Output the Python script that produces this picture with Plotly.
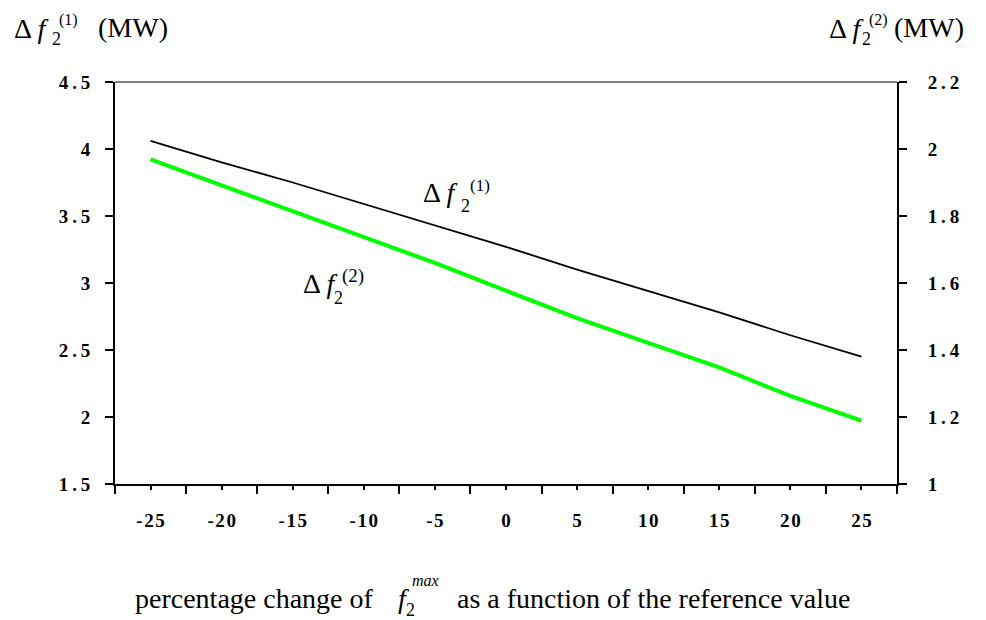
import plotly.graph_objects as go

# ---- data ----
pct_change = [-25, -20, -15, -10, -5, 0, 5, 10, 15, 20, 25]
delta_f1 = [4.06, 3.90, 3.75, 3.59, 3.43, 3.27, 3.10, 2.94, 2.78, 2.61, 2.45]
delta_f2 = [1.969, 1.891, 1.813, 1.736, 1.660, 1.577, 1.495, 1.421, 1.348, 1.263, 1.189]

x_tick_labels = ["-25", "-20", "-15", "-10", "-5", "0", "5", "10", "15", "20", "25"]
y1_tick_vals = [1.5, 2, 2.5, 3, 3.5, 4, 4.5]
y1_tick_labels = ["1.5", "2", "2.5", "3", "3.5", "4", "4.5"]
y2_tick_vals = [1, 1.2, 1.4, 1.6, 1.8, 2, 2.2]
y2_tick_labels = ["1", "1.2", "1.4", "1.6", "1.8", "2", "2.2"]
x_boundaries = [-27.5, -22.5, -17.5, -12.5, -7.5, -2.5, 2.5, 7.5, 12.5, 17.5, 22.5, 27.5]

def spaced(s, sp):
    return sp.join(list(s))

OFF = 8  # page body margin
W, H = 986 - OFF, 620 - OFF
# plot-area edges in page pixels
L, R, T, B = 115, 897, 82, 484
FONT = "Liberation Serif, Times New Roman, serif"

fig = go.Figure()
fig.add_trace(go.Scatter(x=pct_change, y=delta_f1, mode="lines",
                         line=dict(color="black", width=1.8), yaxis="y",
                         showlegend=False, hoverinfo="skip"))
fig.add_trace(go.Scatter(x=pct_change, y=delta_f2, mode="lines",
                         line=dict(color="#00ff00", width=4), yaxis="y2",
                         showlegend=False, hoverinfo="skip"))

def px(x):
    return (x - L) / (R - L)

def py(y):
    return (B - y) / (B - T)

anns = []
def ann(text, x, y, size, xanchor="left", yanchor="middle"):
    anns.append(dict(text=text, x=px(x), y=py(y), xref="paper", yref="paper",
                     xanchor=xanchor, yanchor=yanchor, showarrow=False,
                     font=dict(family=FONT, size=size, color="black")))

# top-left axis title
ann("Δ <i>f</i>", 12, 28, 28)
ann("2", 50, 39, 18)
ann("(1)", 57, 20, 16)
ann("(MW)", 96, 27, 28)
# top-right axis title
ann("Δ <i>f</i>", 827, 28, 28)
ann("2", 860, 39, 18)
ann("(2)", 867, 20, 16)
ann("(MW)", 892, 27, 28)
# in-plot labels
ann("Δ <i>f</i>", 421, 192, 28)
ann("2", 459, 206, 18)
ann("(1)", 468, 185, 17)
ann("Δ <i>f</i>", 301, 283, 28)
ann("2", 332, 298, 18)
ann("(2)", 340, 276, 19)
# bottom title
ann("percentage change of", 376, 598, 28, xanchor="right")
ann("<i>f</i>", 396, 598, 28)
ann("2", 404, 610, 18)
ann("<i>max</i>", 410, 580, 16)
ann("as a function of the reference value", 455, 598, 28)

fig.update_layout(
    width=W, height=H,
    margin=dict(l=L - OFF, r=W - (R - OFF), t=T - OFF, b=H - (B - OFF), pad=0),
    paper_bgcolor="white", plot_bgcolor="white",
    font=dict(family=FONT, color="black"),
    xaxis=dict(range=[-27.5, 27.5], showgrid=False, zeroline=False,
               showline=True, linecolor="black", linewidth=2,
               tickmode="array", tickvals=pct_change,
               ticktext=[spaced(t, "\u200a") for t in x_tick_labels],
               ticks="outside", ticklen=4, tickwidth=1.5, tickcolor="black",
               ticklabelstandoff=14,
               tickfont=dict(family=FONT, size=19, color="black", weight="bold"),
               minor=dict(tickmode="array", tickvals=x_boundaries, ticks="outside",
                          ticklen=8, tickwidth=1.5, tickcolor="black", showgrid=False)),
    yaxis=dict(range=[1.5, 4.5], showgrid=False, zeroline=False,
               showline=True, linecolor="black", linewidth=2,
               tickmode="array", tickvals=y1_tick_vals,
               ticktext=[spaced(t, "\u2009") for t in y1_tick_labels],
               ticks="outside", ticklen=8, tickwidth=1.5, tickcolor="black",
               ticklabelstandoff=11,
               tickfont=dict(family=FONT, size=19, color="black", weight="bold")),
    yaxis2=dict(range=[1.0, 2.2], overlaying="y", side="right",
                showgrid=False, zeroline=False,
                showline=True, linecolor="black", linewidth=2,
                tickmode="array", tickvals=y2_tick_vals,
                ticktext=[spaced(t, "\u2009") for t in y2_tick_labels],
                ticks="outside", ticklen=8, tickwidth=1.5, tickcolor="black",
                ticklabelstandoff=17,
                tickfont=dict(family=FONT, size=19, color="black", weight="bold")),
    shapes=[dict(type="line", xref="paper", yref="paper", x0=0, x1=1, y0=1, y1=1,
                 line=dict(color="#808080", width=2))],
    annotations=anns,
)

fig.write_html("out.html")
